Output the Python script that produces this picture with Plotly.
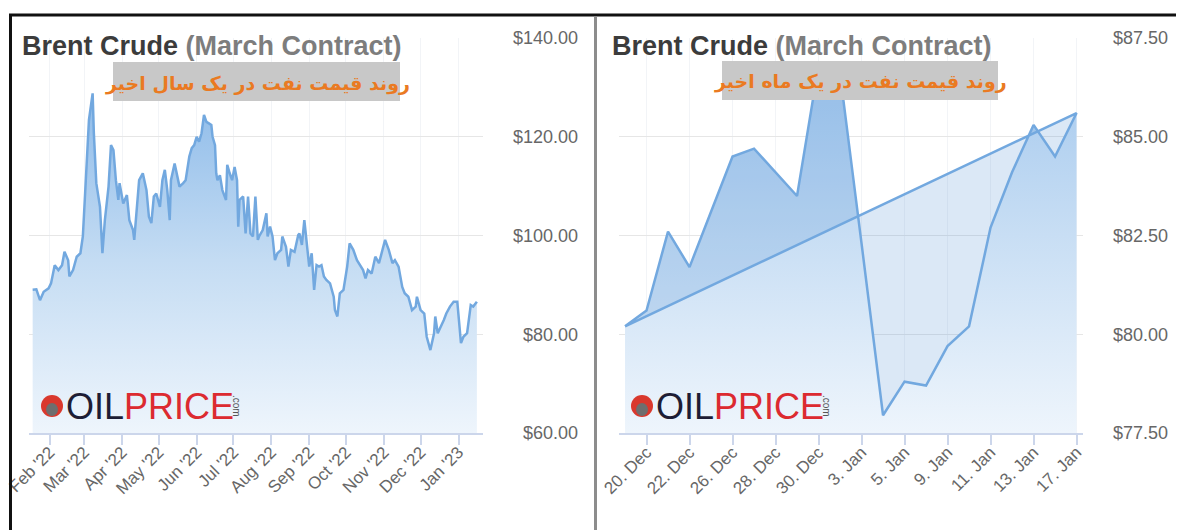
import plotly.graph_objects as go

# The page body adds an 8px margin; the figure is sized to fill the rest of the window.
OFF = 8
W, H = 1184 - OFF, 530 - OFF


def px(x):
    return (x - OFF) / W


def py(y):
    return 1 - (y - OFF) / H


# ---------------- data: one-year chart ----------------
year_dates = [
    "2022-01-18", "2022-01-21", "2022-01-24", "2022-01-27", "2022-01-31", "2022-02-02", "2022-02-05",
    "2022-02-08", "2022-02-11", "2022-02-13", "2022-02-16", "2022-02-17", "2022-02-20", "2022-02-23",
    "2022-02-26", "2022-02-28", "2022-03-01", "2022-03-03", "2022-03-05", "2022-03-08", "2022-03-09",
    "2022-03-11", "2022-03-14", "2022-03-16", "2022-03-18", "2022-03-21", "2022-03-23", "2022-03-25",
    "2022-03-27", "2022-03-29", "2022-03-30", "2022-04-02", "2022-04-05", "2022-04-07", "2022-04-10",
    "2022-04-11", "2022-04-13", "2022-04-15", "2022-04-18", "2022-04-21", "2022-04-23", "2022-04-25",
    "2022-04-27", "2022-04-29", "2022-05-02", "2022-05-04", "2022-05-06", "2022-05-08", "2022-05-10",
    "2022-05-11", "2022-05-14", "2022-05-15", "2022-05-18", "2022-05-21", "2022-05-23", "2022-05-26",
    "2022-05-28", "2022-05-30", "2022-06-01", "2022-06-03", "2022-06-05", "2022-06-07", "2022-06-09",
    "2022-06-11", "2022-06-13", "2022-06-14", "2022-06-16", "2022-06-17", "2022-06-18", "2022-06-20",
    "2022-06-22", "2022-06-25", "2022-06-26", "2022-06-28", "2022-06-30", "2022-07-02", "2022-07-04",
    "2022-07-05", "2022-07-06", "2022-07-09", "2022-07-11", "2022-07-13", "2022-07-15", "2022-07-17",
    "2022-07-19", "2022-07-21", "2022-07-22", "2022-07-25", "2022-07-28", "2022-07-29", "2022-07-31",
    "2022-08-02", "2022-08-04", "2022-08-06", "2022-08-09", "2022-08-10", "2022-08-13", "2022-08-15",
    "2022-08-17", "2022-08-20", "2022-08-23", "2022-08-24", "2022-08-26", "2022-08-28", "2022-08-30",
    "2022-09-01", "2022-09-03", "2022-09-05", "2022-09-07", "2022-09-09", "2022-09-11", "2022-09-13",
    "2022-09-15", "2022-09-18", "2022-09-21", "2022-09-22", "2022-09-24", "2022-09-26", "2022-09-29",
    "2022-10-02", "2022-10-04", "2022-10-07", "2022-10-10", "2022-10-13", "2022-10-15", "2022-10-17",
    "2022-10-19", "2022-10-22", "2022-10-25", "2022-10-28", "2022-10-30", "2022-11-02", "2022-11-05",
    "2022-11-08", "2022-11-10", "2022-11-13", "2022-11-16", "2022-11-18", "2022-11-21", "2022-11-24",
    "2022-11-27", "2022-11-28", "2022-12-01", "2022-12-04", "2022-12-06", "2022-12-09", "2022-12-12",
    "2022-12-13", "2022-12-15", "2022-12-17", "2022-12-20", "2022-12-22", "2022-12-25", "2022-12-28",
    "2022-12-31", "2023-01-03", "2023-01-05", "2023-01-08", "2023-01-10", "2023-01-11", "2023-01-13",
    "2023-01-16",
]
year_prices = [
    89.0, 89.1, 86.9, 88.6, 89.3, 90.3, 94.0,
    93.0, 94.0, 96.7, 95.0, 91.7, 93.0, 95.7,
    96.4, 99.8, 104.5, 113.9, 123.4, 128.8, 120.7,
    110.6, 105.8, 96.4, 103.1, 109.9, 118.3, 117.3,
    111.2, 107.2, 110.6, 106.5, 108.2, 103.1, 101.1,
    99.1, 105.8, 111.2, 112.6, 109.2, 103.8, 102.5,
    107.9, 108.5, 105.8, 111.2, 113.3, 109.2, 103.1,
    111.2, 114.6, 113.3, 109.9, 110.6, 111.2, 116.0,
    117.7, 118.3, 120.0, 119.0, 120.7, 124.4, 123.0,
    122.7, 122.4, 120.0, 118.3, 112.6, 111.2, 112.2,
    109.2, 107.2, 114.3, 112.6, 111.2, 113.9, 111.2,
    101.8, 107.2, 107.9, 100.4, 107.9, 100.4, 99.8,
    107.9, 99.1, 99.8, 101.1, 104.5, 99.8, 101.8,
    99.8, 95.0, 96.4, 97.1, 99.8, 97.7, 93.7,
    97.1, 96.7, 100.1, 100.4, 98.1, 103.1, 97.7,
    93.7, 96.4, 89.0, 94.0, 93.7, 94.0, 91.7,
    91.0, 90.3, 87.6, 84.9, 83.6, 88.3, 89.0,
    93.7, 98.4, 97.1, 95.0, 93.7, 93.0, 91.3,
    93.0, 92.3, 95.7, 94.4, 96.4, 99.1, 97.1,
    94.4, 95.0, 93.7, 89.6, 88.3, 87.6, 84.9,
    85.6, 87.6, 84.9, 84.2, 79.5, 76.8, 80.2,
    83.6, 80.2, 81.2, 82.9, 84.2, 85.6, 86.6,
    86.6, 78.2, 79.5, 80.2, 84.2, 85.9, 85.6,
    86.6,
]
year_tick_dates = [
    "2022-02-01", "2022-03-01", "2022-04-01", "2022-05-01", "2022-06-01", "2022-07-01",
    "2022-08-01", "2022-09-01", "2022-10-01", "2022-11-01", "2022-12-01", "2023-01-01",
]
year_tick_labels = [
    "Feb '22", "Mar '22", "Apr '22", "May '22", "Jun '22", "Jul '22",
    "Aug '22", "Sep '22", "Oct '22", "Nov '22", "Dec '22", "Jan '23",
]
year_y_ticks = [60, 80, 100, 120, 140]
year_y_labels = ["$60.00", "$80.00", "$100.00", "$120.00", "$140.00"]

# ---------------- data: one-month chart ----------------
month_days = [
    "19. Dec", "20. Dec", "21. Dec", "22. Dec", "23. Dec", "26. Dec", "27. Dec", "28. Dec",
    "29. Dec", "30. Dec", "2. Jan", "3. Jan", "4. Jan", "5. Jan", "6. Jan", "9. Jan",
    "10. Jan", "11. Jan", "12. Jan", "13. Jan", "16. Jan", "17. Jan",
]
month_prices = [
    80.2, 80.6, 82.6, 81.7, 83.1, 84.5, 84.7, 84.1,
    83.5, 86.8, 86.6, 82.3, 77.95, 78.8, 78.7, 79.7,
    80.2, 82.7, 84.1, 85.3, 84.5, 85.6,
]
month_tick_labels = [
    "20. Dec", "22. Dec", "26. Dec", "28. Dec", "30. Dec", "3. Jan",
    "5. Jan", "9. Jan", "11. Jan", "13. Jan", "17. Jan",
]
month_y_ticks = [77.5, 80, 82.5, 85, 87.5]
month_y_labels = ["$77.50", "$80.00", "$82.50", "$85.00", "$87.50"]

# ---------------- styling ----------------
LINE = "#72a8df"
FONT = "Liberation Sans"
TICK_GREY = "#676767"
AXIS_COL = "#ccd6eb"
GRID_COL = "#e6e6e6"
VGRID_COL = "#f2f4f7"

fig = go.Figure()

fig.add_trace(go.Scatter(
    x=year_dates, y=year_prices, mode="lines",
    line=dict(color=LINE, width=2.5),
    fill="tozeroy",
    fillgradient=dict(type="vertical", start=60, stop=130,
                      colorscale=[[0, "rgb(238,245,252)"], [0.5, "rgb(196,220,243)"], [1, "rgb(140,186,233)"]]),
    xaxis="x", yaxis="y", hoverinfo="skip", showlegend=False,
))

fig.add_trace(go.Scatter(
    x=month_days, y=month_prices, mode="none",
    fill="tozeroy",
    fillgradient=dict(type="vertical", start=77.5, stop=87.5,
                      colorscale=[[0, "rgb(238,245,252)"], [0.5, "rgb(200,222,244)"], [1, "rgb(160,198,237)"]]),
    xaxis="x2", yaxis="y2", hoverinfo="skip", showlegend=False,
))

fig.add_trace(go.Scatter(
    x=month_days + month_days[:1], y=month_prices + month_prices[:1], mode="lines",
    line=dict(color=LINE, width=2.5),
    fill="toself", fillcolor="rgba(90,150,215,0.22)",
    xaxis="x2", yaxis="y2", hoverinfo="skip", showlegend=False,
))

xcommon = dict(
    automargin=False,
    tickangle=-45, ticks="outside", ticklen=10, tickwidth=1.5, tickcolor=AXIS_COL,
    ticklabelstandoff=-9, ticklabeloverflow="allow",
    showline=True, linecolor=AXIS_COL, linewidth=1.5,
    showgrid=True, gridcolor=VGRID_COL, zeroline=False,
    tickfont=dict(family=FONT, size=17, color=TICK_GREY),
)
ycommon = dict(
    automargin=False,
    anchor="free", side="left", showline=False, ticks="",
    showgrid=True, gridcolor=GRID_COL, gridwidth=1, zeroline=False,
    tickmode="array",
    tickfont=dict(family=FONT, size=18, color=TICK_GREY),
)

ydom = [py(433), py(38)]

fig.update_layout(
    template="none",
    width=W, height=H,
    margin=dict(l=0, r=0, t=0, b=0, pad=0, autoexpand=False),
    paper_bgcolor="white", plot_bgcolor="rgba(0,0,0,0)",
    xaxis=dict(domain=[px(29), px(483)], type="date",
               range=["2022-01-15", "2023-01-21"], anchor="y",
               tickmode="array", tickvals=year_tick_dates, ticktext=year_tick_labels,
               **xcommon),
    yaxis=dict(domain=ydom, range=[60, 140], position=px(578),
               tickvals=year_y_ticks, ticktext=year_y_labels, **ycommon),
    xaxis2=dict(domain=[px(619), px(1083)], type="category",
                range=[-0.28, 21.3], anchor="y2",
                categoryorder="array", categoryarray=month_days,
                tickmode="array", tickvals=month_tick_labels, ticktext=month_tick_labels,
                **xcommon),
    yaxis2=dict(domain=ydom, range=[77.5, 87.5], position=px(1168),
                tickvals=month_y_ticks, ticktext=month_y_labels, **ycommon),
)

shapes = []
# subtitle boxes
shapes.append(dict(type="rect", xref="paper", yref="paper", x0=px(113), x1=px(400), y0=py(101), y1=py(62),
                   fillcolor="#c8c8c8", line=dict(width=0), layer="above"))
shapes.append(dict(type="rect", xref="paper", yref="paper", x0=px(722), x1=px(998), y0=py(100), y1=py(61),
                   fillcolor="#c8c8c8", line=dict(width=0), layer="above"))
# logo icons
for cx in (52, 642):
    shapes.append(dict(type="circle", xref="paper", yref="paper",
                       x0=px(cx - 11), x1=px(cx + 11), y0=py(417), y1=py(395),
                       fillcolor="#d9382d", line=dict(width=0), layer="above"))
    shapes.append(dict(type="circle", xref="paper", yref="paper",
                       x0=px(cx - 6), x1=px(cx + 6), y0=py(416), y1=py(403),
                       fillcolor="#6e6e6e", line=dict(width=0), layer="above"))
# frame
shapes.append(dict(type="rect", xref="paper", yref="paper", x0=0, x1=1, y0=py(13), y1=1,
                   fillcolor="white", line=dict(width=0), layer="above"))
shapes.append(dict(type="line", xref="paper", yref="paper", x0=px(9), x1=1, y0=py(15), y1=py(15),
                   line=dict(color="#111111", width=3), layer="above"))
shapes.append(dict(type="line", xref="paper", yref="paper", x0=px(10.5), x1=px(10.5), y0=0, y1=py(14),
                   line=dict(color="#111111", width=3), layer="above"))
shapes.append(dict(type="line", xref="paper", yref="paper", x0=px(595.5), x1=px(595.5), y0=0, y1=py(16),
                   line=dict(color="#8c8c8c", width=3), layer="above"))
shapes.append(dict(type="line", xref="paper", yref="paper", x0=px(1182), x1=px(1182), y0=0, y1=py(16),
                   line=dict(color="#dddddd", width=1), layer="above"))
fig.update_layout(shapes=shapes)

annotations = []
title_txt = "<b>Brent Crude</b> <b><span style='color:#7d7d7d'>(March Contract)</span></b>"
for x0 in (20, 610):
    annotations.append(dict(xref="paper", yref="paper", x=px(x0), y=py(46), xanchor="left", yanchor="middle",
                            text=title_txt, showarrow=False,
                            font=dict(family=FONT, size=27, color="#3c3c3c")))
annotations.append(dict(xref="paper", yref="paper", x=px(257), y=py(83), xanchor="center", yanchor="middle",
                        text="<b>روند قیمت نفت در یک سال اخیر</b>", showarrow=False,
                        font=dict(family="DejaVu Sans", size=19, color="#ea7a22")))
annotations.append(dict(xref="paper", yref="paper", x=px(860), y=py(82), xanchor="center", yanchor="middle",
                        text="<b>روند قیمت نفت در یک ماه اخیر</b>", showarrow=False,
                        font=dict(family="DejaVu Sans", size=19, color="#ea7a22")))
logo_txt = "<span style='color:#1d1d35'>OIL</span><span style='color:#dc2a30'>PRICE</span>"
for x0 in (64, 654):
    annotations.append(dict(xref="paper", yref="paper", x=px(x0), y=py(406), xanchor="left", yanchor="middle",
                            text=logo_txt, showarrow=False,
                            font=dict(family=FONT, size=36)))
    annotations.append(dict(xref="paper", yref="paper", x=px(x0 + 173), y=py(406), xanchor="center",
                            yanchor="middle", text=".com", textangle=90, showarrow=False,
                            font=dict(family=FONT, size=10, color="#555555")))
fig.update_layout(annotations=annotations)

fig.write_html("out.html")
